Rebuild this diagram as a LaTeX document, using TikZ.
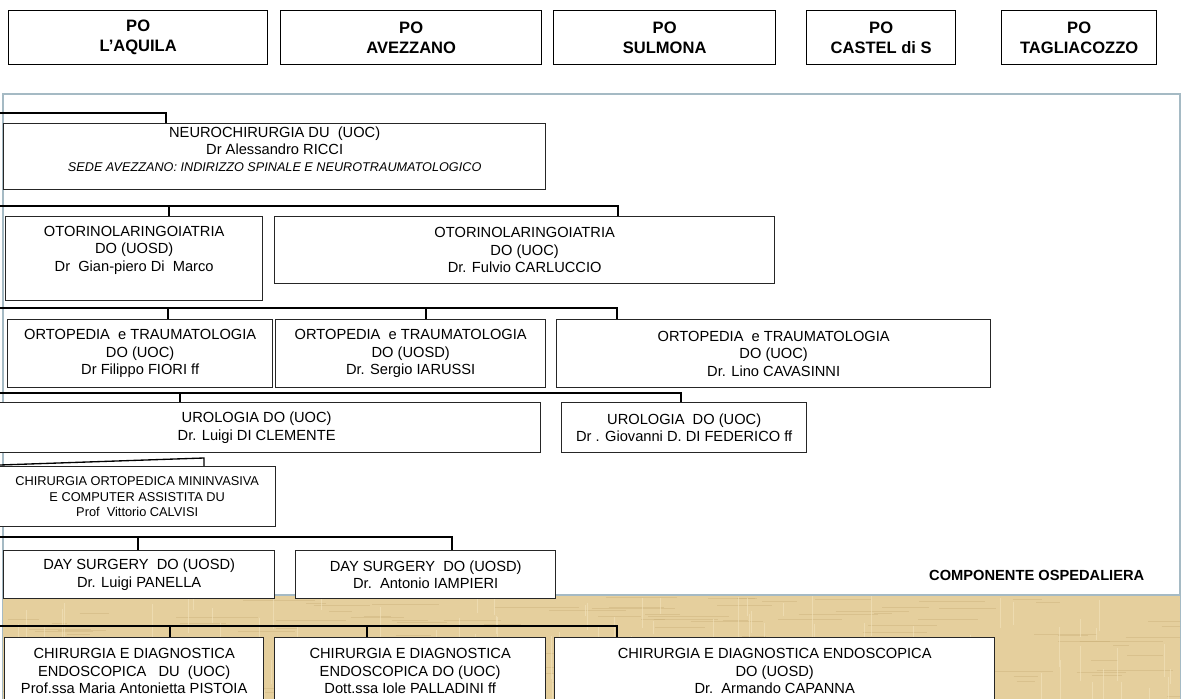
\documentclass[tikz,border=0pt]{standalone}
\usepackage{fontspec}
\setmainfont{Liberation Sans}
\usepackage{tikz}
\usetikzlibrary{positioning}
\definecolor{panelline}{RGB}{165,186,196}
\definecolor{papiro}{RGB}{229,207,157}
\definecolor{papiroscuro}{RGB}{196,168,112}
\definecolor{papirochiaro}{RGB}{243,228,190}
\tikzset{
  sz/.style 2 args={minimum width=#1*0.75pt,minimum height=#2*0.75pt},
  po/.style={draw,line width=1pt,anchor=north west,align=center,inner sep=0pt,
    font=\fontsize{12.4}{15}\selectfont\bfseries},
  uo/.style={draw=black!85,line width=1pt,fill=white,anchor=north west,align=center,inner sep=0pt,
    font=\fontsize{11}{13}\selectfont},
  bus/.style={line width=1.4pt},
  fibra/.style={line width=0.7pt,opacity=0.35},
}

\begin{document}
\begin{tikzpicture}[x=0.75pt,y=-0.75pt]
  \useasboundingbox (0,0) rectangle (1185,699);

  % presidi ospedalieri
  \node[po,sz={259}{54}] (laquila) at (8,10) {PO\\L’AQUILA};
  \node[po,sz={261}{54}] (avezzano) at (280,10) {PO\\AVEZZANO};
  \node[po,sz={222}{54}] (sulmona) at (553,10) {PO\\SULMONA};
  \node[po,sz={149}{54}] (castel) at (806,10) {PO\\CASTEL di S};
  \node[po,sz={155}{54}] (taglia) at (1001,10) {PO\\TAGLIACOZZO};

  % pannello
  \draw[panelline,line width=1.8pt,fill=white] (3,94) rectangle (1180,720);
  \fill[papiro] (3,595) rectangle (1180,720);
  \begin{scope}
    \clip (3,595) rectangle (1180,720);
    \pgfmathsetseed{11}
    \foreach \i in {1,...,160} {
      \pgfmathsetmacro\xx{rnd*1180}
      \pgfmathsetmacro\yy{595+rnd*110}
      \pgfmathsetmacro\ll{15+rnd*70}
      \draw[fibra,papiroscuro] (\xx,\yy) -- ++(\ll,0);
    }
    \foreach \i in {1,...,140} {
      \pgfmathsetmacro\xx{rnd*1180}
      \pgfmathsetmacro\yy{595+rnd*110}
      \pgfmathsetmacro\ll{10+rnd*40}
      \draw[fibra,papirochiaro,opacity=0.6] (\xx,\yy) -- ++(0,\ll);
    }
  \end{scope}
  \draw[panelline,line width=1.5pt] (3,595) -- (1180,595);
  \node[font=\fontsize{11}{13}\selectfont\bfseries,anchor=east] (compo) at (1149,575) {COMPONENTE OSPEDALIERA};

  % unita operative
  \node[uo,sz={542}{66}] (neuro) at (3,123) {NEUROCHIRURGIA DU\ \ (UOC)\\Dr Alessandro RICCI\\
    {\fontsize{9.5}{12}\selectfont\itshape SEDE AVEZZANO: INDIRIZZO SPINALE E NEUROTRAUMATOLOGICO}\\[-2pt]\mbox{}};
  \node[uo,sz={257}{84}] (otoA) at (5,216) {OTORINOLARINGOIATRIA\\DO (UOSD)\\Dr\ \ Gian-piero Di\ \ Marco\\[2pt]\mbox{}};
  \node[uo,sz={500}{67}] (otoB) at (274,216) {OTORINOLARINGOIATRIA\\DO (UOC)\\Dr. Fulvio CARLUCCIO};
  \node[uo,sz={265}{68}] (ortoA) at (7,319) {ORTOPEDIA\ \ e TRAUMATOLOGIA\\DO (UOC)\\Dr Filippo FIORI ff};
  \node[uo,sz={270}{68}] (ortoB) at (275,319) {ORTOPEDIA\ \ e TRAUMATOLOGIA\\DO (UOSD)\\Dr. Sergio IARUSSI};
  \node[uo,sz={434}{68}] (ortoC) at (556,319) {ORTOPEDIA\ \ e TRAUMATOLOGIA\\DO (UOC)\\Dr. Lino CAVASINNI};
  \node[uo,sz={568}{50}] (uroA) at (-28,402) {UROLOGIA DO (UOC)\\Dr. Luigi DI CLEMENTE};
  \node[uo,sz={245}{50}] (uroB) at (561,402) {UROLOGIA\ \ DO (UOC)\\Dr . Giovanni D. DI FEDERICO ff};
  \node[uo,sz={277}{60},font=\fontsize{9.6}{11.6}\selectfont] (chir) at (-2,466)
    {CHIRURGIA ORTOPEDICA MININVASIVA\\E COMPUTER ASSISTITA DU\\Prof\ \ Vittorio CALVISI};
  \node[uo,sz={271}{48}] (dayA) at (3,550) {DAY SURGERY\ \ DO (UOSD)\\Dr. Luigi PANELLA};
  \node[uo,sz={260}{48}] (dayB) at (295,550) {DAY SURGERY\ \ DO (UOSD)\\Dr.\ \ Antonio IAMPIERI};
  \node[uo,sz={259}{67}] (endoA) at (4,637) {CHIRURGIA E DIAGNOSTICA\\ENDOSCOPICA\ \ \ DU\ \ (UOC)\\Prof.ssa Maria Antonietta PISTOIA};
  \node[uo,sz={271}{67}] (endoB) at (274,637) {CHIRURGIA E DIAGNOSTICA\\ENDOSCOPICA DO (UOC)\\Dott.ssa Iole PALLADINI ff};
  \node[uo,sz={440}{67}] (endoC) at (554,637) {CHIRURGIA E DIAGNOSTICA ENDOSCOPICA\\DO (UOSD)\\Dr.\ \ Armando CAPANNA};

  % collegamenti (linee che arrivano da sinistra)
  \coordinate (b1) at (0,113);  \coordinate (d11) at (166,113);
  \draw[bus] (b1) -- (d11) -- (d11 |- neuro.north);

  \coordinate (b2) at (0,206);  \coordinate (d21) at (169,206); \coordinate (d22) at (618,206);
  \draw[bus] (b2) -- (d22) -- (d22 |- otoB.north);
  \draw[bus] (d21) -- (d21 |- otoA.north);

  \coordinate (b3) at (0,308);  \coordinate (d31) at (168,308); \coordinate (d32) at (426,308); \coordinate (d33) at (617,308);
  \draw[bus] (b3) -- (d33) -- (d33 |- ortoC.north);
  \draw[bus] (d31) -- (d31 |- ortoA.north);
  \draw[bus] (d32) -- (d32 |- ortoB.north);

  \coordinate (b4) at (0,393);  \coordinate (d41) at (180,393); \coordinate (d42) at (681,393);
  \draw[bus] (b4) -- (d42) -- (d42 |- uroB.north);
  \draw[bus] (d41) -- (d41 |- uroA.north);

  \coordinate (b5) at (0,465);  \coordinate (d51) at (204,458);
  \draw[bus,line width=1pt] (b5) -- (d51) -- (d51 |- chir.north);

  \coordinate (b6) at (0,537);  \coordinate (d61) at (138,537); \coordinate (d62) at (452,537);
  \draw[bus] (b6) -- (d62) -- (d62 |- dayB.north);
  \draw[bus] (d61) -- (d61 |- dayA.north);

  \coordinate (b7) at (0,626);  \coordinate (d71) at (170,626); \coordinate (d72) at (367,626); \coordinate (d73) at (617,626);
  \draw[bus] (b7) -- (d73) -- (d73 |- endoC.north);
  \draw[bus] (d71) -- (d71 |- endoA.north);
  \draw[bus] (d72) -- (d72 |- endoB.north);
\end{tikzpicture}
\end{document}
